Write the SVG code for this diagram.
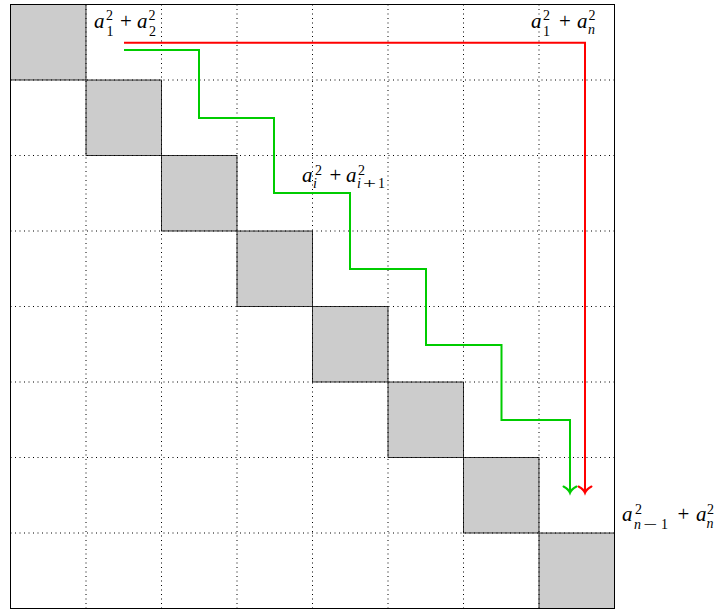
<svg xmlns="http://www.w3.org/2000/svg" width="728" height="609" viewBox="0 0 728 609">
<style>
.cell{fill:#cccccc;stroke:#000;stroke-width:0.8}
.grid{stroke:#000;stroke-width:1;stroke-dasharray:1 3.5;fill:none}
.m{font-family:"Liberation Serif","Times New Roman",serif;fill:#000}
.v{font-style:italic;font-size:21px}
.s{font-size:14px}
.si{font-style:italic;font-size:14px}
.p{font-size:21px}
</style>
<rect x="0" y="0" width="728" height="609" fill="#fff"/>
<g id="cells">
<rect class="cell" x="10.5" y="4.5" width="75.5" height="75.5"/>
<rect class="cell" x="86" y="80" width="75.5" height="75.5"/>
<rect class="cell" x="161.5" y="155.5" width="75.5" height="75.5"/>
<rect class="cell" x="237" y="231" width="75.5" height="75.5"/>
<rect class="cell" x="312.5" y="306.5" width="75.5" height="75.5"/>
<rect class="cell" x="388" y="382" width="75.5" height="75.5"/>
<rect class="cell" x="463.5" y="457.5" width="75.5" height="75.5"/>
<rect class="cell" x="539" y="533" width="75.5" height="75.5"/>
</g>
<g id="grid">
<path class="grid" d="M86,4.5V608.5M161.5,4.5V608.5M237,4.5V608.5M312.5,4.5V608.5M388,4.5V608.5M463.5,4.5V608.5M539,4.5V608.5M10.5,80H614.5M10.5,155.5H614.5M10.5,231H614.5M10.5,306.5H614.5M10.5,382H614.5M10.5,457.5H614.5M10.5,533H614.5"/>
<rect x="10.5" y="4.5" width="604" height="604" fill="none" stroke="#000" stroke-width="1"/>
</g>
<g id="connectors" fill="none" stroke-width="2" stroke-linejoin="miter">
<path d="M124,42.7H585V492" stroke="#ff0000"/>
<path d="M578.5,486.5Q583.5,489 585,493Q586.5,489 591.5,486.5" stroke="#ff0000" stroke-linecap="round"/>
<path d="M124,50H199V118H274V193H350V269H426V345H501.5V420H570V492" stroke="#00cc00"/>
<path d="M563.5,486.5Q568.5,489 570,493Q571.5,489 576.5,486.5" stroke="#00cc00" stroke-linecap="round"/>
</g>
<g id="label-a1a2" class="m">
<text class="v" x="94" y="28">a</text>
<text class="s" x="106" y="20">2</text>
<text class="s" x="106.5" y="36">1</text>
<text class="p" x="120" y="28">+</text>
<text class="v" x="137" y="28">a</text>
<text class="s" x="148.5" y="20">2</text>
<text class="s" x="149" y="36">2</text>
</g>
<g id="label-a1an" class="m">
<text class="v" x="531" y="28">a</text>
<text class="s" x="543" y="20">2</text>
<text class="s" x="543" y="36">1</text>
<text class="p" x="559" y="28">+</text>
<text class="v" x="577" y="28">a</text>
<text class="s" x="588.5" y="20">2</text>
<text class="si" x="588" y="34">n</text>
</g>
<g id="label-aiai1" class="m">
<text class="v" x="302" y="182">a</text>
<text class="s" x="315" y="175">2</text>
<text class="si" x="313" y="188">i</text>
<text class="p" x="329.5" y="182">+</text>
<text class="v" x="346" y="182">a</text>
<text class="s" x="358" y="175">2</text>
<text class="si" x="357" y="188">i</text>
<text class="s" x="363" y="188" textLength="13" lengthAdjust="spacingAndGlyphs">+</text>
<text class="s" x="378" y="188">1</text>
</g>
<g id="label-an1an" class="m">
<text class="v" x="622" y="521">a</text>
<text class="s" x="635" y="514">2</text>
<text class="si" x="634" y="529">n</text>
<text class="s" x="643.5" y="529" textLength="14" lengthAdjust="spacingAndGlyphs">−</text>
<text class="s" x="661" y="529">1</text>
<text class="p" x="677.5" y="521">+</text>
<text class="v" x="696" y="521">a</text>
<text class="s" x="707" y="514">2</text>
<text class="si" x="706.5" y="528">n</text>
</g>
</svg>
